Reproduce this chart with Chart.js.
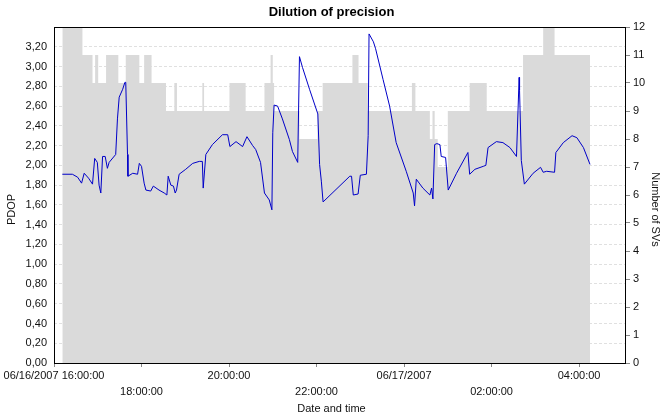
<!DOCTYPE html>
<html>
<head>
<meta charset="utf-8">
<script src="https://cdn.jsdelivr.net/npm/chart.js@4"></script>
<style>
  body { margin: 0; background: #fff; }
</style>
</head>
<body>
<canvas id="dopChart" width="663" height="419"></canvas>
<script>
// --- data (hours since 06/16/2007 16:00) ---
const pdopHours = [
  0.19, 0.42, 0.54, 0.63, 0.69, 0.79, 0.88, 0.93, 0.99, 1.03, 1.07, 1.11, 1.17, 1.22, 1.26, 1.41,
  1.45, 1.49, 1.57, 1.62, 1.64, 1.68, 1.69, 1.80, 1.91, 1.95, 2.00, 2.06, 2.10, 2.21, 2.27, 2.40,
  2.52, 2.58, 2.61, 2.67, 2.73, 2.77, 2.80, 2.86, 3.01, 3.17, 3.32, 3.39, 3.41, 3.47, 3.62, 3.85,
  3.97, 4.02, 4.16, 4.31, 4.41, 4.54, 4.61, 4.72, 4.81, 4.92, 4.98, 5.00, 5.03, 5.11, 5.22, 5.38,
  5.45, 5.57, 5.61, 5.68, 5.84, 6.03, 6.07, 6.11, 6.15, 6.76, 6.80, 6.84, 6.95, 7.00, 7.14, 7.18,
  7.20, 7.30, 7.35, 7.52, 7.67, 7.82, 8.05, 8.21, 8.24, 8.28, 8.43, 8.59, 8.63, 8.66, 8.70, 8.75,
  8.82, 8.85, 8.95, 9.01, 9.20, 9.46, 9.50, 9.62, 9.81, 9.87, 9.92, 10.11, 10.26, 10.42, 10.57, 10.63,
  10.64, 10.68, 10.75, 10.95, 11.12, 11.18, 11.26, 11.44, 11.47, 11.64, 11.84, 11.95, 12.10, 12.25
];
const pdopValues = [
  1.91, 1.91, 1.88, 1.82, 1.92, 1.87, 1.81, 2.07, 2.03, 1.80, 1.72, 2.09, 2.09, 1.97, 2.03, 2.11,
  2.47, 2.69, 2.77, 2.84, 2.84, 2.11, 1.89, 1.92, 1.91, 2.02, 1.99, 1.82, 1.75, 1.74, 1.79, 1.75,
  1.72, 1.70, 1.89, 1.80, 1.79, 1.72, 1.75, 1.91, 1.96, 2.02, 2.04, 2.04, 1.77, 2.11, 2.21, 2.31,
  2.31, 2.19, 2.24, 2.19, 2.29, 2.20, 2.16, 2.03, 1.72, 1.65, 1.55, 2.33, 2.61, 2.60, 2.47, 2.26,
  2.14, 2.03, 3.10, 2.99, 2.77, 2.52, 2.01, 1.84, 1.63, 1.89, 1.89, 1.70, 1.71, 1.90, 1.91, 2.30,
  3.33, 3.25, 3.18, 2.87, 2.60, 2.23, 1.94, 1.72, 1.59, 1.86, 1.77, 1.70, 1.77, 1.66, 2.21, 2.22,
  2.21, 2.09, 2.08, 1.75, 1.92, 2.13, 1.91, 1.96, 1.99, 2.00, 2.18, 2.24, 2.23, 2.18, 2.09, 2.89,
  2.76, 2.05, 1.81, 1.92, 1.98, 1.93, 1.94, 1.93, 2.13, 2.23, 2.30, 2.28, 2.18, 2.01
];

// number of satellites, each value holds until the next time
const svHours = [
  0.19, 0.65, 0.88, 0.94, 1.01, 1.19, 1.47, 1.64, 1.95, 2.06, 2.23, 2.56, 2.75, 2.81, 3.39, 3.43,
  4.01, 4.38, 4.81, 4.95, 5.00, 5.03, 5.61, 6.02, 6.14, 6.82, 6.96, 7.17, 8.18, 8.26, 8.59, 8.65,
  8.70, 8.77, 9.00, 9.50, 9.89, 10.72, 11.18, 11.44, 12.25
];
const svCounts = [
  12, 11, 10, 11, 10, 11, 10, 11, 10, 11, 10, 9, 10, 9, 10, 9,
  10, 9, 10, 11, 10, 9, 8, 9, 10, 11, 10, 9, 10, 9, 8, 9,
  8, 7, 9, 10, 9, 11, 12, 11, 11
];

const xTickHours = [0, 2, 4, 6, 8, 10, 12];
const xTickLabels = ['06/16/2007 16:00:00', '18:00:00', '20:00:00', '22:00:00', '06/17/2007', '02:00:00', '04:00:00'];

const pdopPoints = pdopHours.map((h, i) => ({ x: h, y: pdopValues[i] }));
const svPoints = svHours.map((h, i) => ({ x: h, y: svCounts[i] }));

const labelFont = { family: 'Liberation Sans', size: 11 };

// black frame round the plot
const plotFrame = {
  id: 'plotFrame',
  afterDraw(chart) {
    const { ctx, chartArea: a } = chart;
    ctx.save();
    ctx.strokeStyle = '#000';
    ctx.lineWidth = 1;
    ctx.strokeRect(Math.round(a.left) + 0.5, Math.round(a.top) + 0.5, Math.round(a.width), Math.round(a.height));
    ctx.restore();
  }
};

// axis titles, centred on the whole picture like the original
const axisTitles = {
  id: 'axisTitles',
  afterDraw(chart) {
    const { ctx, width, height } = chart;
    ctx.save();
    ctx.fillStyle = '#111';
    ctx.font = '11px "Liberation Sans"';
    ctx.textAlign = 'center';
    ctx.textBaseline = 'middle';
    ctx.fillText('Date and time', width / 2, height - 10);
    ctx.translate(12, height / 2);
    ctx.rotate(-Math.PI / 2);
    ctx.fillText('PDOP', 0, 0);
    ctx.restore();
    ctx.save();
    ctx.fillStyle = '#111';
    ctx.font = '11px "Liberation Sans"';
    ctx.textAlign = 'center';
    ctx.textBaseline = 'middle';
    ctx.translate(width - 8, height / 2);
    ctx.rotate(Math.PI / 2);
    ctx.fillText('Number of SVs', 0, 0);
    ctx.restore();
  }
};

const ctx = document.getElementById('dopChart').getContext('2d');
const dopChart = new Chart(ctx, {
  type: 'line',
  data: {
    datasets: [
      {
        label: 'PDOP',
        data: pdopPoints,
        yAxisID: 'yDop',
        borderColor: '#0000c8',
        borderWidth: 1,
        pointRadius: 0,
        tension: 0,
        fill: false
      },
      {
        label: 'Number of SVs',
        data: svPoints,
        yAxisID: 'ySv',
        stepped: true,
        borderWidth: 0,
        borderColor: 'rgba(0,0,0,0)',
        backgroundColor: '#dadada',
        fill: 'origin',
        pointRadius: 0
      }
    ]
  },
  options: {
    responsive: false,
    animation: false,
    layout: { padding: { top: 1, left: 0, right: 0, bottom: 0 } },
    plugins: {
      legend: { display: false },
      tooltip: { enabled: false },
      title: {
        display: true,
        text: 'Dilution of precision',
        color: '#000',
        font: { family: 'Liberation Sans', size: 13, weight: 'bold', lineHeight: 1.2 },
        padding: { top: 4, bottom: 6.4 }
      }
    },
    scales: {
      x: {
        type: 'linear',
        min: 0,
        max: 13.05,
        afterBuildTicks: s => { s.ticks = xTickHours.map(v => ({ value: v })); },
        afterFit: s => { s.height = 56; },
        border: { display: false },
        grid: { drawOnChartArea: false, tickLength: 4, color: '#888' },
        ticks: {
          autoSkip: false,
          maxRotation: 0,
          padding: 1,
          color: '#111',
          font: { family: 'Liberation Sans', size: 11, lineHeight: 1.45 },
          callback: (v, i) => i % 2 ? ['', xTickLabels[i]] : xTickLabels[i]
        }
      },
      yDop: {
        position: 'left',
        min: 0,
        max: 3.4,
        afterFit: s => { s.width = 54; },
        border: { display: false, dash: [3, 2] },
        grid: { color: '#e0e0e0', drawTicks: false },
        ticks: {
          stepSize: 0.2,
          padding: 7,
          color: '#111',
          font: labelFont,
          callback: v => v > 3.3 ? '' : v.toFixed(2).replace('.', ',')
        }
      },
      ySv: {
        position: 'right',
        min: 0,
        max: 12,
        afterFit: s => { s.width = 38; },
        border: { display: false },
        grid: { drawOnChartArea: false, tickLength: 5, color: '#888' },
        ticks: { stepSize: 1, padding: 3, color: '#111', font: labelFont }
      }
    }
  },
  plugins: [plotFrame, axisTitles]
});
</script>
</body>
</html>
